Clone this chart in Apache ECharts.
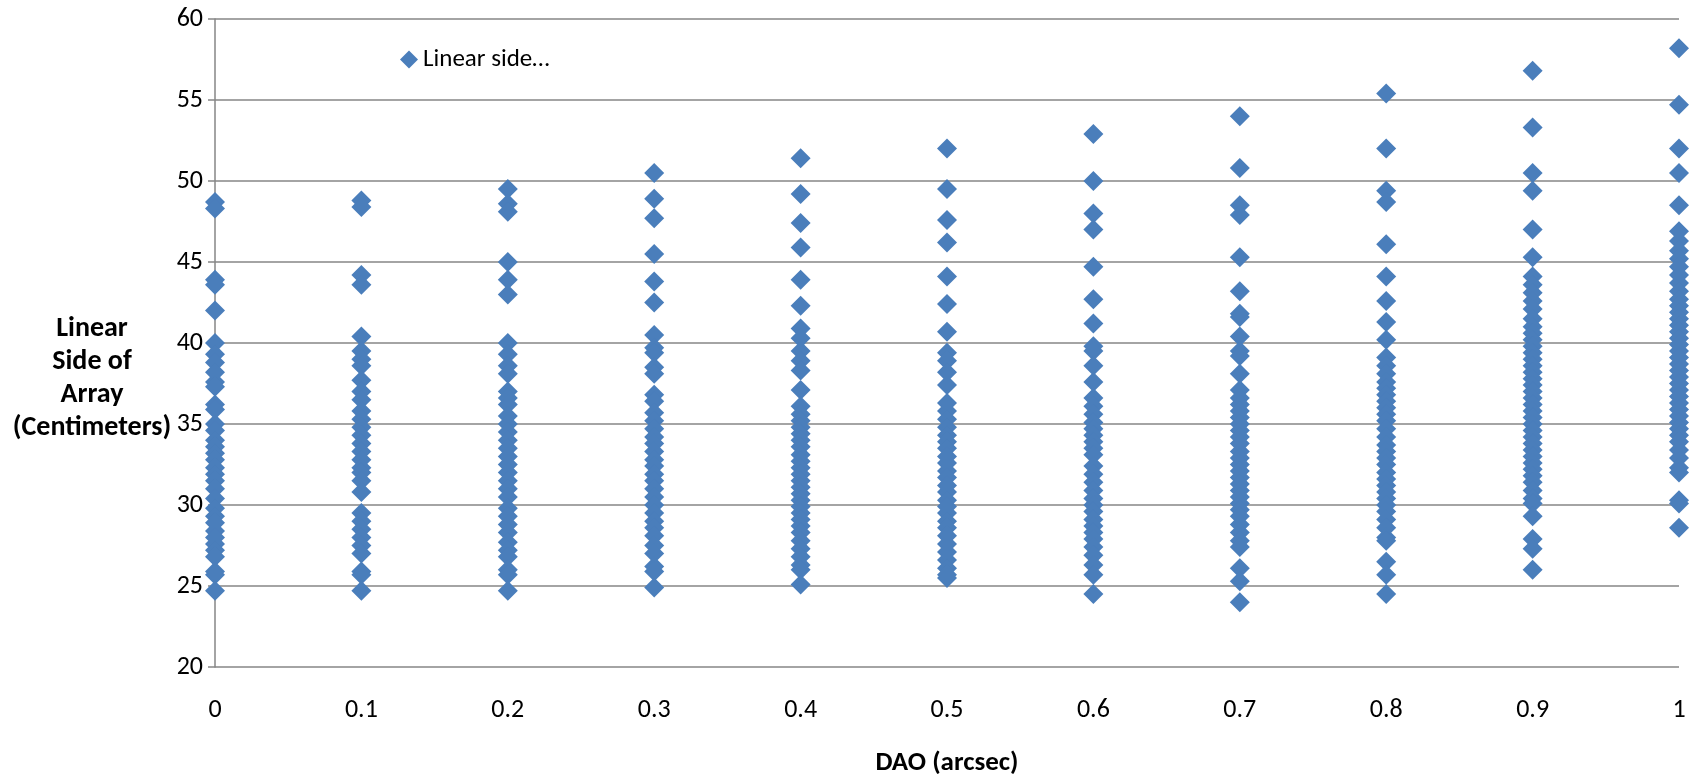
<!DOCTYPE html>
<html>
<head>
<meta charset="utf-8">
<script src="https://cdn.jsdelivr.net/npm/echarts@6/dist/echarts.min.js"></script>
<style>
  html, body { margin: 0; padding: 0; background: #fff; }
  #chart { width: 1690px; height: 776px; }
</style>
</head>
<body>
<div id="chart"></div>
<script>
// DAO values (x) and the measured linear side values at each of them
var daoValues = [0, 0.1, 0.2, 0.3, 0.4, 0.5, 0.6, 0.7, 0.8, 0.9, 1];

var side00 = [48.7, 48.3, 43.9, 43.6, 42.0, 40.0, 39.3, 38.8, 38.2, 37.6, 37.3, 36.2, 35.9, 35.0, 34.6, 34.0, 33.6, 33.2, 32.8, 32.3, 31.9, 31.5, 31.0, 30.4, 29.8, 29.3, 28.9, 28.4, 28.0, 27.6, 27.2, 26.8, 25.9, 25.7, 24.7];
var side01 = [48.8, 48.4, 44.2, 43.6, 40.4, 39.5, 39.0, 38.6, 37.7, 37.0, 36.5, 35.8, 35.3, 34.8, 34.3, 33.8, 33.3, 32.8, 32.3, 32.0, 31.5, 30.8, 29.5, 29.0, 28.5, 28.0, 27.5, 27.0, 25.9, 25.7, 24.7];
var side02 = [49.5, 48.6, 48.1, 45.0, 43.9, 43.0, 40.0, 39.3, 38.6, 38.1, 37.0, 36.6, 36.2, 35.5, 35.0, 34.5, 34.0, 33.5, 33.0, 32.5, 32.0, 31.5, 31.0, 30.5, 29.8, 29.3, 28.8, 28.3, 27.7, 27.2, 26.8, 26.0, 25.7, 24.7];
var side03 = [50.5, 48.9, 47.7, 45.5, 43.8, 42.5, 40.5, 39.7, 39.4, 38.5, 38.1, 36.8, 36.4, 35.7, 35.2, 34.7, 34.2, 33.8, 33.3, 32.8, 32.4, 31.9, 31.5, 31.0, 30.5, 30.0, 29.5, 29.0, 28.6, 28.1, 27.5, 27.0, 26.2, 25.9, 24.9];
var side04 = [51.4, 49.2, 47.4, 45.9, 43.9, 42.3, 40.9, 40.3, 39.5, 38.9, 38.3, 37.1, 36.1, 35.6, 35.2, 34.8, 34.4, 34.0, 33.6, 33.1, 32.7, 32.3, 31.9, 31.5, 31.1, 30.7, 30.3, 29.9, 29.5, 29.1, 28.7, 28.3, 27.8, 27.3, 26.8, 26.3, 26.0, 25.1];
var side05 = [52.0, 49.5, 47.6, 46.2, 44.1, 42.4, 40.7, 39.4, 38.9, 38.2, 37.4, 36.3, 35.8, 35.3, 34.8, 34.3, 33.9, 33.5, 33.0, 32.6, 32.1, 31.7, 31.2, 30.8, 30.3, 29.9, 29.5, 29.0, 28.6, 28.1, 27.6, 27.1, 26.6, 26.1, 25.7, 25.5];
var side06 = [52.9, 50.0, 48.0, 47.0, 44.7, 42.7, 41.2, 39.8, 39.5, 38.6, 37.6, 36.6, 36.1, 35.6, 35.1, 34.7, 34.3, 33.9, 33.5, 33.1, 32.4, 31.9, 31.4, 30.9, 30.4, 30.0, 29.6, 29.1, 28.7, 28.3, 27.9, 27.4, 26.9, 26.3, 25.7, 24.5];
var side07 = [54.0, 50.8, 48.5, 47.9, 45.3, 43.2, 41.8, 41.6, 40.4, 39.5, 39.2, 38.1, 37.1, 36.6, 36.2, 35.8, 35.4, 35.0, 34.6, 34.2, 33.8, 33.3, 32.9, 32.5, 32.1, 31.7, 31.3, 30.9, 30.5, 30.1, 29.7, 29.3, 28.8, 28.3, 27.8, 27.4, 26.1, 25.3, 24.0];
var side08 = [55.4, 52.0, 49.4, 48.7, 46.1, 44.1, 42.6, 41.3, 40.2, 39.1, 38.6, 38.1, 37.6, 37.2, 36.8, 36.4, 36.0, 35.6, 35.2, 34.7, 34.2, 33.7, 33.3, 32.9, 32.5, 32.0, 31.6, 31.2, 30.8, 30.4, 30.0, 29.6, 29.1, 28.6, 28.0, 27.8, 26.5, 25.7, 24.5];
var side09 = [56.8, 53.3, 50.5, 49.4, 47.0, 45.3, 44.1, 43.6, 43.1, 42.6, 42.1, 41.5, 41.0, 40.6, 40.2, 39.8, 39.4, 39.0, 38.6, 38.2, 37.8, 37.4, 37.0, 36.6, 36.2, 35.8, 35.4, 35.0, 34.6, 34.2, 33.8, 33.4, 33.0, 32.6, 32.2, 31.8, 31.4, 30.9, 30.4, 30.1, 29.3, 27.9, 27.3, 26.0];
var side10 = [58.2, 54.7, 52.0, 50.5, 48.5, 46.9, 46.3, 45.7, 45.2, 44.7, 44.2, 43.7, 43.2, 42.7, 42.3, 41.9, 41.5, 41.1, 40.7, 40.3, 39.9, 39.5, 39.1, 38.7, 38.3, 37.9, 37.5, 37.1, 36.7, 36.3, 35.9, 35.5, 35.1, 34.7, 34.3, 33.9, 33.4, 32.9, 32.3, 32.0, 30.3, 30.1, 28.6];

var sideColumns = [side00, side01, side02, side03, side04, side05, side06, side07, side08, side09, side10];

var points = [];
sideColumns.forEach(function (col, i) {
  col.forEach(function (v) {
    points.push([daoValues[i], v]);
  });
});

var font = "Carlito, Lato, 'Open Sans', sans-serif";

var myChart = echarts.init(document.getElementById("chart"));

myChart.setOption({
  animation: false,
  backgroundColor: "#fff",
  textStyle: { fontFamily: font },
  grid: {
    left: 215,
    right: 11,
    top: 19,
    bottom: 109,
    outerBoundsMode: "none",
  },
  legend: {
    left: 395,
    top: 42,
    itemWidth: 18,
    itemHeight: 18,
    itemGap: 4,
    textStyle: { fontSize: 25, color: "#000", fontFamily: font, padding: [0, 0, 0, 0] },
    data: [{ name: "Linear side…", icon: "diamond" }],
  },
  graphic: [
    {
      type: "text",
      x: 92,
      y: 312,
      style: {
        text: "Linear\nSide of\nArray\n(Centimeters)",
        align: "center",
        verticalAlign: "top",
        fontSize: 28,
        fontWeight: "bold",
        lineHeight: 33,
        fill: "#000",
        fontFamily: font,
      },
    },
  ],
  xAxis: {
    type: "value",
    min: 0,
    max: 1,
    interval: 0.1,
    name: "DAO (arcsec)",
    nameLocation: "middle",
    nameGap: 83,
    nameTextStyle: { fontSize: 27, fontWeight: "bold", color: "#000" },
    axisLine: { show: false },
    axisTick: { show: false },
    splitLine: { show: false },
    axisLabel: { fontSize: 26, color: "#000", margin: 30 },
  },
  yAxis: {
    type: "value",
    min: 20,
    max: 60,
    interval: 5,
    axisLine: { show: true, lineStyle: { color: "#868686", width: 1.5 } },
    axisTick: { show: true, length: 7, lineStyle: { color: "#868686", width: 1.5 } },
    splitLine: { show: true, lineStyle: { color: "#868686", width: 1.5 } },
    axisLabel: { fontSize: 26, color: "#000", margin: 12 },
  },
  series: [
    {
      name: "Linear side…",
      type: "scatter",
      symbol: "diamond",
      symbolSize: 20,
      clip: false,
      itemStyle: { color: "#4a7ebb", opacity: 1 },
      data: points,
    },
  ],
});
</script>
</body>
</html>
